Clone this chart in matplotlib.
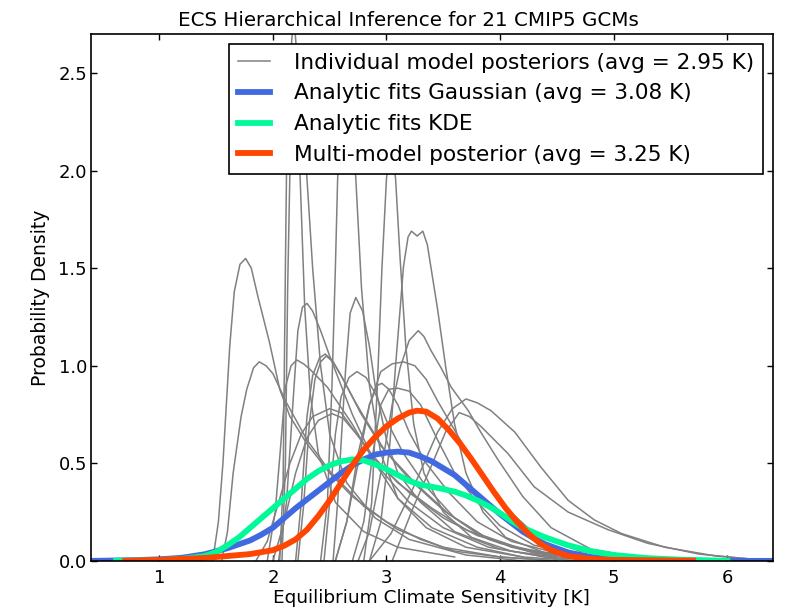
import matplotlib
matplotlib.use("Agg")
import matplotlib.pyplot as plt

# Individual GCM posteriors (21 models): x knots [K] and density
post_x = [
    [1.47, 1.52, 1.56, 1.59, 1.62, 1.66, 1.71, 1.76, 1.81, 1.87, 1.97, 2.06, 2.15, 2.3, 2.5, 2.7, 3.0, 3.3, 3.6, 4.0, 4.5],
    [1.55, 1.60, 1.65, 1.72, 1.77, 1.83, 1.88, 1.94, 2.0, 2.12, 2.3, 2.5, 2.8, 3.1, 3.5, 4.0, 4.5],
    [2.05, 2.12, 2.18, 2.22, 2.26, 2.30, 2.35, 2.42, 2.5, 2.7, 2.9, 3.1, 3.4, 3.8, 4.2, 4.7],
    [1.95, 2.02, 2.07, 2.11, 2.16, 2.21, 2.27, 2.33, 2.48, 2.7, 2.9, 3.2, 3.5, 3.9, 4.4, 4.9],
    [2.2, 2.25, 2.3, 2.35, 2.41, 2.46, 2.52, 2.6, 2.7, 2.77, 2.95, 3.2, 3.5, 3.8, 4.1, 4.5, 5.0],
    [2.22, 2.27, 2.32, 2.37, 2.42, 2.47, 2.53, 2.61, 2.72, 2.8, 2.98, 3.25, 3.55, 3.85, 4.2, 4.6, 5.1],
    [2.53, 2.57, 2.6, 2.64, 2.68, 2.73, 2.79, 2.85, 2.9, 3.0, 3.1, 3.3, 3.6, 4.0, 4.5],
    [1.85, 1.95, 2.05, 2.15, 2.25, 2.35, 2.5, 2.6, 2.7, 2.85, 3.0, 3.2, 3.5, 3.8, 4.2, 4.7, 5.2],
    [2.0, 2.1, 2.2, 2.3, 2.4, 2.52, 2.62, 2.75, 2.9, 3.1, 3.4, 3.7, 4.0, 4.4, 4.9],
    [2.45, 2.5, 2.55, 2.6, 2.67, 2.74, 2.82, 2.9, 3.0, 3.15, 3.35, 3.6, 3.9, 4.3, 4.8],
    [2.55, 2.65, 2.75, 2.85, 2.92, 2.96, 3.02, 3.1, 3.2, 3.35, 3.55, 3.8, 4.1, 4.5, 5.0],
    [2.7, 2.8, 2.88, 2.95, 3.02, 3.1, 3.2, 3.3, 3.45, 3.6, 3.8, 4.0, 4.3, 4.7, 5.2],
    [2.55, 2.65, 2.75, 2.85, 2.95, 3.05, 3.15, 3.25, 3.35, 3.45, 3.6, 3.8, 4.0, 4.3, 4.7, 5.2],
    [2.75, 2.85, 2.95, 3.05, 3.12, 3.2, 3.28, 3.33, 3.39, 3.48, 3.57, 3.72, 3.83, 3.98, 4.2, 4.45, 4.8, 5.3],
    [2.85, 2.95, 3.03, 3.08, 3.12, 3.15, 3.19, 3.22, 3.27, 3.32, 3.36, 3.39, 3.45, 3.52, 3.6, 3.7, 3.85, 4.05, 4.4, 4.9],
    [2.06, 2.09, 2.11, 2.12, 2.14, 2.17, 2.19, 2.21, 2.24, 2.28, 2.33, 2.4, 2.55, 2.8, 3.1, 3.6],
    [2.08, 2.11, 2.13, 2.15, 2.19, 2.23, 2.27, 2.30, 2.35, 2.42, 2.5, 2.65, 2.9, 3.2, 3.7, 4.2],
    [2.42, 2.48, 2.52, 2.55, 2.57, 2.61, 2.65, 2.69, 2.73, 2.78, 2.85, 2.95, 3.1, 3.35, 3.7, 4.2],
    [2.80, 2.87, 2.92, 2.96, 3.0, 3.04, 3.08, 3.12, 3.17, 3.24, 3.33, 3.5, 3.75, 4.1, 4.6],
    [2.85, 3.04, 3.24, 3.45, 3.58, 3.70, 3.8, 3.92, 4.13, 4.36, 4.6, 4.83, 5.07, 5.45, 5.9, 6.2, 6.4],
    [3.05, 3.24, 3.39, 3.52, 3.64, 3.73, 3.83, 4.07, 4.3, 4.6, 4.95, 5.3, 5.75, 6.2, 6.4],
]
post_y = [
    [0.0, 0.2, 0.5, 0.8, 1.1, 1.38, 1.52, 1.55, 1.50, 1.35, 1.12, 0.88, 0.74, 0.6, 0.45, 0.33, 0.2, 0.11, 0.05, 0.02, 0.0],
    [0.0, 0.15, 0.45, 0.74, 0.88, 0.99, 1.02, 1.0, 0.96, 0.81, 0.62, 0.46, 0.28, 0.16, 0.07, 0.02, 0.0],
    [0.0, 0.3, 0.84, 1.18, 1.3, 1.32, 1.28, 1.18, 1.05, 0.75, 0.5, 0.32, 0.17, 0.07, 0.02, 0.0],
    [0.0, 0.25, 0.6, 0.89, 1.0, 1.03, 1.01, 0.98, 0.89, 0.7, 0.5, 0.3, 0.17, 0.07, 0.02, 0.0],
    [0.0, 0.3, 0.74, 0.95, 1.04, 1.06, 1.03, 0.95, 0.84, 0.76, 0.59, 0.42, 0.26, 0.14, 0.07, 0.02, 0.0],
    [0.0, 0.28, 0.7, 0.93, 1.02, 1.05, 1.02, 0.94, 0.82, 0.74, 0.57, 0.4, 0.24, 0.13, 0.06, 0.02, 0.0],
    [0.0, 0.3, 0.6, 0.98, 1.27, 1.35, 1.28, 1.1, 0.9, 0.62, 0.45, 0.3, 0.15, 0.06, 0.01],
    [0.0, 0.1, 0.3, 0.5, 0.65, 0.74, 0.78, 0.76, 0.68, 0.56, 0.46, 0.35, 0.22, 0.13, 0.06, 0.02, 0.0],
    [0.0, 0.2, 0.45, 0.63, 0.72, 0.755, 0.73, 0.64, 0.52, 0.4, 0.27, 0.16, 0.09, 0.04, 0.01],
    [0.0, 0.3, 0.65, 0.84, 0.94, 0.97, 0.94, 0.86, 0.72, 0.55, 0.38, 0.22, 0.11, 0.04, 0.01],
    [0.0, 0.2, 0.55, 0.8, 0.9, 0.91, 0.88, 0.8, 0.66, 0.5, 0.35, 0.2, 0.1, 0.04, 0.01],
    [0.0, 0.2, 0.55, 0.8, 0.88, 0.885, 0.87, 0.8, 0.62, 0.45, 0.3, 0.18, 0.08, 0.03, 0.0],
    [0.0, 0.2, 0.5, 0.8, 0.97, 1.01, 1.02, 1.0, 0.93, 0.82, 0.67, 0.47, 0.3, 0.14, 0.05, 0.01],
    [0.0, 0.15, 0.45, 0.8, 0.99, 1.13, 1.18, 1.15, 1.08, 0.99, 0.89, 0.77, 0.66, 0.52, 0.33, 0.17, 0.06, 0.01],
    [0.0, 0.2, 0.6, 1.0, 1.29, 1.51, 1.66, 1.69, 1.665, 1.69, 1.62, 1.51, 1.29, 1.0, 0.7, 0.45, 0.25, 0.12, 0.04, 0.01],
    [0.0, 0.4, 1.5, 2.0, 2.45, 2.7, 2.75, 2.6, 1.96, 1.3, 0.85, 0.55, 0.3, 0.15, 0.07, 0.02],
    [0.0, 0.5, 1.4, 2.0, 2.35, 2.4, 2.2, 1.96, 1.5, 1.0, 0.65, 0.4, 0.22, 0.11, 0.03, 0.0],
    [0.0, 0.3, 0.9, 1.5, 1.96, 2.35, 2.45, 2.35, 1.96, 1.4, 0.9, 0.55, 0.32, 0.17, 0.07, 0.02],
    [0.0, 0.3, 0.9, 1.5, 1.96, 2.15, 1.96, 1.55, 1.1, 0.7, 0.45, 0.25, 0.12, 0.05, 0.01],
    [0.0, 0.14, 0.38, 0.66, 0.78, 0.83, 0.81, 0.77, 0.66, 0.48, 0.31, 0.21, 0.14, 0.07, 0.025, 0.01, 0.005],
    [0.0, 0.28, 0.48, 0.66, 0.76, 0.74, 0.69, 0.55, 0.38, 0.25, 0.16, 0.09, 0.035, 0.01, 0.005],
]

# Analytic Gaussian fit
gauss_x = [0.4, 0.8, 1.0, 1.2, 1.4, 1.6, 1.8, 1.9, 2.0, 2.1, 2.2, 2.3, 2.4, 2.5, 2.6, 2.7, 2.8, 2.9,
           3.0, 3.1, 3.2, 3.3, 3.4, 3.5, 3.6, 3.7, 3.8, 3.9, 4.0, 4.1, 4.2, 4.3, 4.4, 4.6, 4.8,
           5.0, 5.4, 6.0, 6.4]
gauss_y = [0.0, 0.004, 0.008, 0.016, 0.034, 0.065, 0.105, 0.135, 0.17, 0.22, 0.27, 0.315, 0.36,
           0.405, 0.45, 0.49, 0.52, 0.545, 0.555, 0.56, 0.555, 0.535, 0.51, 0.475, 0.44, 0.39,
           0.34, 0.29, 0.24, 0.195, 0.15, 0.115, 0.085, 0.043, 0.02, 0.008, 0.002, 0.0, 0.0]

# Analytic KDE fit
kde_x = [0.62, 1.0, 1.2, 1.4, 1.5, 1.6, 1.7, 1.8, 1.9, 2.0, 2.1, 2.2, 2.3, 2.4, 2.5, 2.6, 2.7,
         2.8, 2.9, 3.0, 3.1, 3.2, 3.3, 3.4, 3.5, 3.6, 3.7, 3.8, 3.9, 4.0, 4.1, 4.2, 4.4, 4.6,
         4.8, 5.0, 5.3, 5.6, 6.0]
kde_y = [0.0, 0.004, 0.01, 0.025, 0.045, 0.08, 0.12, 0.17, 0.22, 0.27, 0.32, 0.37, 0.42, 0.46,
         0.49, 0.51, 0.52, 0.515, 0.495, 0.47, 0.44, 0.41, 0.39, 0.38, 0.368, 0.355, 0.335,
         0.31, 0.28, 0.245, 0.205, 0.17, 0.12, 0.08, 0.05, 0.03, 0.014, 0.006, 0.0]

# Multi-model posterior
multi_x = [0.7, 1.0, 1.4, 1.8, 2.0, 2.1, 2.2, 2.3, 2.4, 2.5, 2.6, 2.7, 2.8, 2.9, 3.0, 3.1, 3.2,
           3.27, 3.35, 3.45, 3.55, 3.65, 3.75, 3.85, 3.95, 4.05, 4.15, 4.25, 4.35, 4.45, 4.6,
           4.8, 5.0, 5.7]
multi_y = [0.0, 0.005, 0.015, 0.035, 0.055, 0.078, 0.11, 0.16, 0.23, 0.31, 0.40, 0.49, 0.57,
           0.635, 0.69, 0.73, 0.76, 0.77, 0.765, 0.73, 0.67, 0.60, 0.52, 0.435, 0.35, 0.27,
           0.20, 0.14, 0.09, 0.055, 0.025, 0.01, 0.005, 0.001]

labels = ["Individual model posteriors (avg = 2.95 K)",
          "Analytic fits Gaussian (avg = 3.08 K)",
          "Analytic fits KDE",
          "Multi-model posterior (avg = 3.25 K)"]

fig = plt.figure(figsize=(7.86, 6.09), dpi=100)
ax = fig.add_axes([0.116, 0.079, 0.867, 0.865])

for i, (xs, ys) in enumerate(zip(post_x, post_y)):
    ax.plot(xs, ys, color="gray", lw=1.1, label=labels[0] if i == 0 else None)
ax.plot(gauss_x, gauss_y, color="royalblue", lw=4.2, label=labels[1])
ax.plot(kde_x, kde_y, color="mediumspringgreen", lw=4.2, label=labels[2])
ax.plot(multi_x, multi_y, color="orangered", lw=4.2, label=labels[3])

ax.set_xlim(0.4, 6.4)
ax.set_ylim(0, 2.7)
ax.set_xticks([1, 2, 3, 4, 5, 6])
ax.set_yticks([0.0, 0.5, 1.0, 1.5, 2.0, 2.5])
ax.tick_params(direction="in", top=True, right=True, length=4.5, width=1, labelsize=13)
ax.tick_params(axis="x", pad=6)
ax.tick_params(axis="y", pad=3)
for s in ax.spines.values():
    s.set_linewidth(1.2)

ax.set_title("ECS Hierarchical Inference for 21 CMIP5 GCMs", fontsize=14.3, x=0.466)
ax.set_xlabel("Equilibrium Climate Sensitivity [K]", fontsize=13.3, labelpad=1)
ax.set_ylabel("Probability Density", fontsize=13.5, labelpad=6)

leg = ax.legend(loc="upper right", fontsize=15.6, fancybox=False, framealpha=1,
                edgecolor="black", handlelength=1.5, handletextpad=1.1,
                borderaxespad=0.45)
leg.get_frame().set_linewidth(1.2)

fig.savefig("out.png", dpi=100)
